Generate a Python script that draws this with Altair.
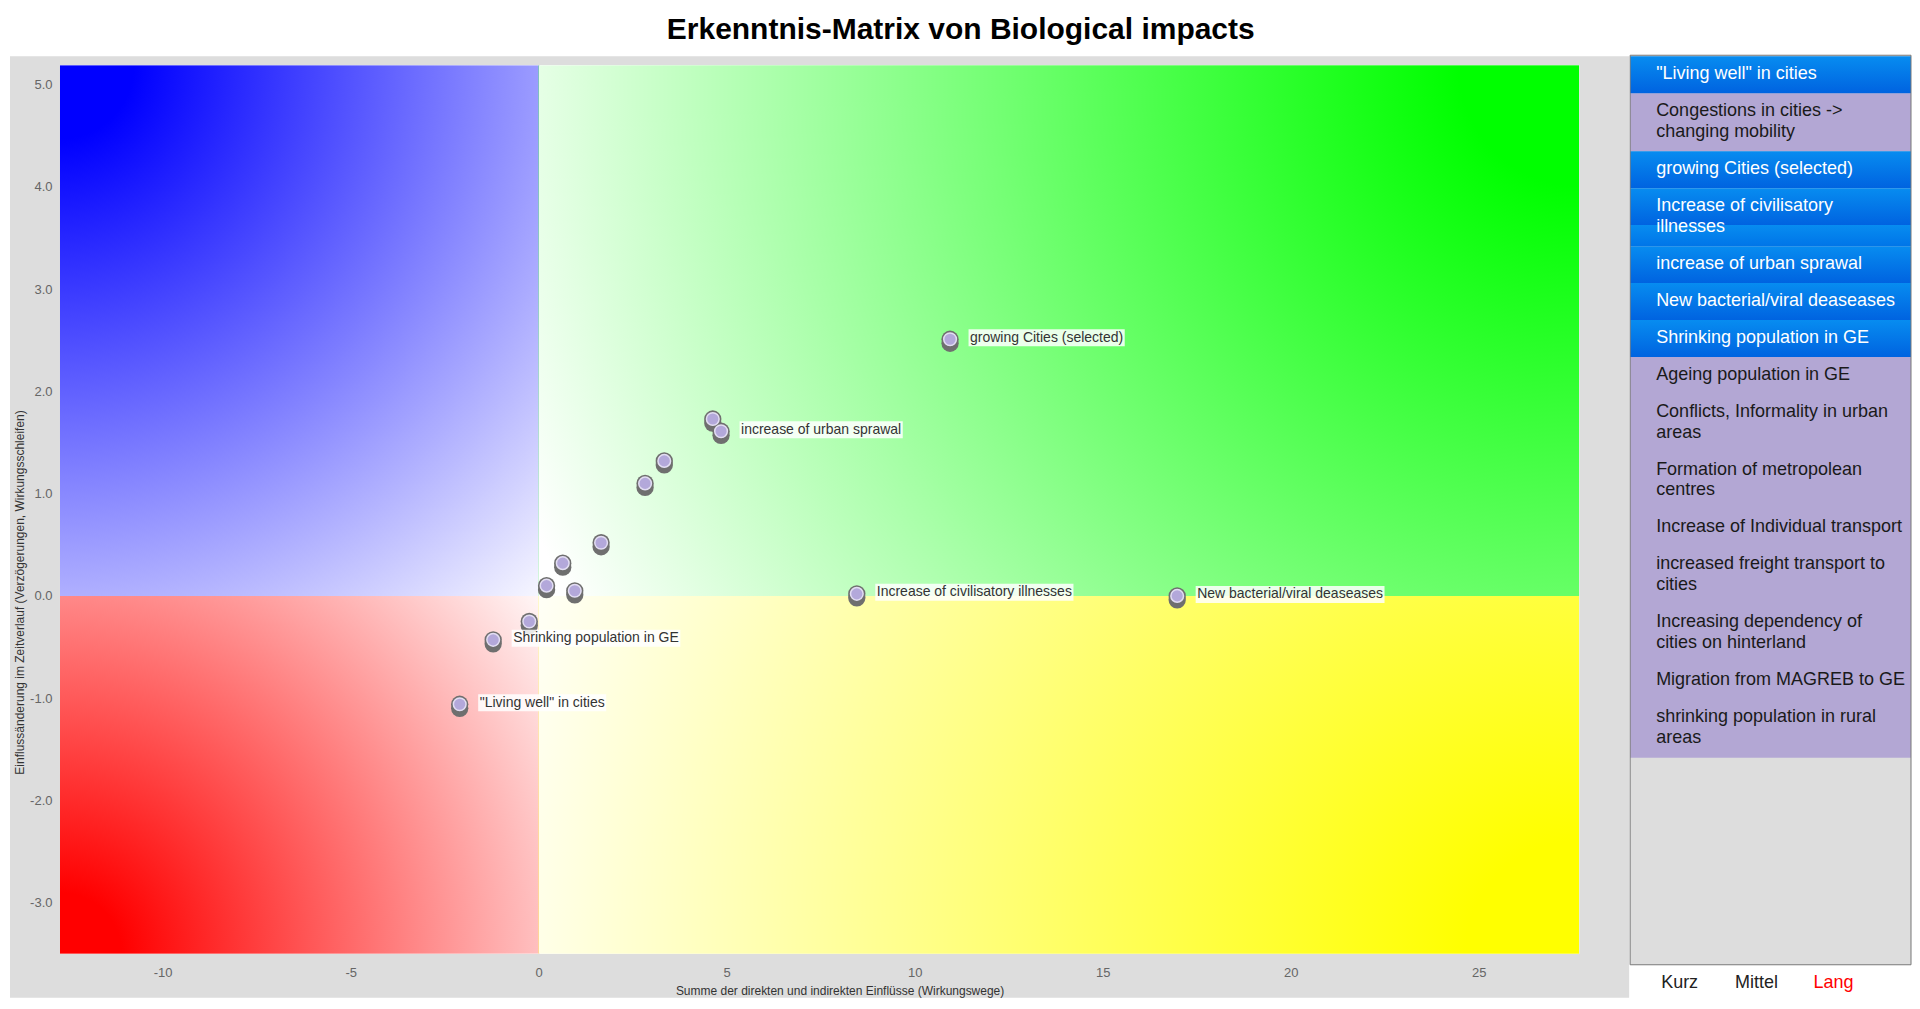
import math
import altair as alt
import pandas as pd

# ---------------- data ----------------
TITLE = "Erkenntnis-Matrix von Biological impacts"
X_TITLE = "Summe der direkten und indirekten Einflüsse (Wirkungswege)"
Y_TITLE = "Einflussänderung im Zeitverlauf (Verzögerungen, Wirkungsschleifen)"

point_x = [10.94, 4.63, 4.85, 3.34, 2.83, 1.66, 0.64, 0.21, 0.96, 8.46, -0.25, -1.21, -2.10, 16.98]
point_y = [2.51, 1.73, 1.61, 1.32, 1.10, 0.52, 0.32, 0.10, 0.05, 0.02, -0.25, -0.43, -1.06, 0.00]
point_label = ["growing Cities (selected)", "", "increase of urban sprawal", "", "", "", "", "", "",
               "Increase of civilisatory illnesses", "", "Shrinking population in GE",
               "\"Living well\" in cities", "New bacterial/viral deaseases"]

x_ticks = [-10, -5, 0, 5, 10, 15, 20, 25]
y_ticks = [-3, -2, -1, 0, 1, 2, 3, 4, 5]
x_domain = [-12.73, 27.67]
y_domain = [-3.5, 5.19]

list_items = [
    "\"Living well\" in cities",
    "Congestions in cities ->\nchanging mobility",
    "growing Cities (selected)",
    "Increase of civilisatory\nillnesses",
    "increase of urban sprawal",
    "New bacterial/viral deaseases",
    "Shrinking population in GE",
    "Ageing population in GE",
    "Conflicts, Informality in urban\nareas",
    "Formation of metropolean\ncentres",
    "Increase of Individual transport",
    "increased freight transport to\ncities",
    "Increasing dependency of\ncities on hinterland",
    "Migration from MAGREB to GE",
    "shrinking population in rural\nareas",
]
list_selected = [True, False, True, True, True, True, True,
                 False, False, False, False, False, False, False, False]

horizon_labels = ["Kurz", "Mittel", "Lang"]
horizon_active = "Lang"

# ---------------- layout / style constants ----------------
FONT = "Liberation Sans"
W, H = 1520, 889            # scatter plot area
PW, PH = 281, 900           # list panel view
PANEL_UNITS = 910           # panel height in its own units
LINE_H, ITEM_PAD = 21, 16
LBL_SIZE = 14
BOX_GAP = 18.5

# Arial / Helvetica advance widths (1/1000 em) for label-box sizing
_chars = " !\"#$%&'()*+,-./0123456789:;<=>?@ABCDEFGHIJKLMNOPQRSTUVWXYZ[\\]^_`abcdefghijklmnopqrstuvwxyz"
_widths = [278, 278, 355, 556, 556, 889, 667, 191, 333, 333, 389, 584, 278, 333, 278, 278] + [556] * 10 + \
          [278, 278, 584, 584, 584, 556, 1015] + \
          [667, 667, 722, 722, 667, 611, 778, 722, 278, 500, 667, 556, 833, 722, 778, 667, 778, 722, 667, 611,
           722, 667, 944, 667, 667, 611] + [278, 278, 278, 469, 556, 333] + \
          [556, 556, 500, 556, 556, 278, 556, 556, 222, 222, 500, 222, 833, 556, 556, 556, 556, 333, 500, 278,
           556, 500, 722, 500, 500, 500]
AFM = dict(zip(_chars, _widths))


def text_width(s, size):
    return sum(AFM.get(c, 556) for c in s) * size / 1000.0


ppu = W / (x_domain[1] - x_domain[0])

pts = pd.DataFrame({"x": point_x, "y": point_y, "label": point_label})
pts["bx0"] = pts["x"] + BOX_GAP / ppu
pts["bx1"] = pts["x"] + (BOX_GAP + 3 + pts["label"].map(lambda s: text_width(s, LBL_SIZE))) / ppu

one = pd.DataFrame({"k": [0]})

# ---------------- quadrant gradients ----------------
wl = W * (0 - x_domain[0]) / (x_domain[1] - x_domain[0])
wr = W - wl
ht = H * (y_domain[1] - 0) / (y_domain[1] - y_domain[0])
hb = H - ht


def radial(w, h, cx, cy, color, white, end=1.0):
    m = max(w, h)
    ux = (cx * w - (w - m) / 2) / m
    uy = (cy * h - (h - m) / 2) / m
    r = 1.03 * math.hypot(w, h) / m
    return alt.RadialGradient(
        gradient="radial",
        stops=[alt.GradientStop(color=color, offset=0),
               alt.GradientStop(color=color, offset=0.1),
               alt.GradientStop(color=white, offset=end)],
        x1=ux, y1=uy, r1=0, x2=ux, y2=uy, r2=r)


# (x0, x1, y0, y1, gradient, x2Offset, yOffset) -- the small overlaps hide seams
quads = [
    (x_domain[0], 0, 0, y_domain[1], radial(wl, ht, 0, 0, "#0000ff", "#ffffff"), 1, 1),
    (0, x_domain[1], 0, y_domain[1], radial(wr, ht, 1, 0, "#00ff00", "#ffffff", 0.95), 0, 1),
    (x_domain[0], 0, y_domain[0], 0, radial(wl, hb, 0, 1, "#ff0000", "#ffffff"), 1, 0),
    (0, x_domain[1], y_domain[0], 0, radial(wr, hb, 1, 1, "#ffff00", "#ffffff"), 0, 0),
]

xscale = alt.Scale(domain=x_domain, nice=False, zero=False)
yscale = alt.Scale(domain=y_domain, nice=False, zero=False)

xaxis = alt.Axis(
    values=x_ticks, title=X_TITLE, grid=False, domain=False, ticks=False, zindex=2,
    labelColor="#666666", labelFontSize=13, labelPadding=13, labelFont=FONT,
    labelExpr="replace(format(datum.value, 'd'), '\u2212', '-')",
    titleFont=FONT, titleFontSize=12, titleFontWeight="normal", titleColor="#333333",
    titleX=780, titleY=32)
yaxis = alt.Axis(
    values=y_ticks, title=Y_TITLE, grid=False, domain=False, ticks=False, zindex=2,
    labelColor="#666666", labelFontSize=13, labelPadding=8, labelFont=FONT,
    labelExpr="replace(format(datum.value, '.1f'), '\u2212', '-')",
    titleFont=FONT, titleFontSize=12, titleFontWeight="normal", titleColor="#333333",
    titleX=-33, titleY=527)

X = alt.X("x:Q", scale=xscale, axis=xaxis, title=X_TITLE)
Y = alt.Y("y:Q", scale=yscale, axis=yaxis, title=Y_TITLE)

bg = alt.Chart(one).mark_rect(color="#dddddd").encode(
    x=alt.value(-50), x2=alt.value(W + 50), y=alt.value(-9), y2=alt.value(H + 44))

quad_layers = [
    alt.Chart(one).mark_rect(color="white", strokeWidth=0).encode(
        x=alt.XDatum(x_domain[0], type="quantitative", scale=xscale, axis=xaxis, title=X_TITLE),
        x2=alt.X2Datum(x_domain[1]),
        y=alt.YDatum(y_domain[0], type="quantitative", scale=yscale, axis=yaxis, title=Y_TITLE),
        y2=alt.Y2Datum(y_domain[1]))
]
for x0, x1, y0, y1, grad, x2off, yoff in quads:
    quad_layers.append(
        alt.Chart(one).mark_rect(fill=grad, strokeWidth=0, x2Offset=x2off, yOffset=yoff).encode(
            x=alt.XDatum(x0, type="quantitative", scale=xscale, axis=xaxis, title=X_TITLE),
            x2=alt.X2Datum(x1),
            y=alt.YDatum(y0, type="quantitative", scale=yscale, axis=yaxis, title=Y_TITLE),
            y2=alt.Y2Datum(y1)))

base = alt.Chart(pts)
shadow = base.mark_circle(color="#6f6f6f", opacity=1, size=300, yOffset=4).encode(x=X, y=Y)
ring = base.mark_circle(color="#6f6f6f", opacity=1, size=300).encode(x=X, y=Y)
dot = base.mark_circle(color="#b3a8da", opacity=1, size=160, stroke="#e2ddf2", strokeWidth=1.5).encode(x=X, y=Y)

labelled = base.transform_filter("datum.label != ''")
lbox = labelled.mark_rect(color="white", opacity=0.85, yOffset=-10, y2Offset=7).encode(
    x=alt.X("bx0:Q", scale=xscale, axis=xaxis, title=X_TITLE), x2="bx1:Q",
    y=Y, y2="y:Q")
ltxt = labelled.mark_text(align="left", baseline="middle", dx=20, dy=-1.5,
                          fontSize=LBL_SIZE, font=FONT, color="#333333").encode(
    x=X, y=Y, text="label:N")

left = alt.layer(bg, *quad_layers, shadow, ring, dot, lbox, ltxt).properties(width=W, height=H)

# ---------------- right list panel ----------------
rows = []
top = 1
for name, sel in zip(list_items, list_selected):
    lines = name.split("\n")
    hgt = ITEM_PAD + LINE_H * len(lines)
    rows.append({"lines": lines, "sel": sel, "n": len(lines),
                 "y0": top, "y1": top + hgt, "ytext": top + ITEM_PAD / 2 + LINE_H / 2})
    top += hgt
items = pd.DataFrame(rows)

yr = alt.Scale(domain=[0, PANEL_UNITS], range=[-10, PH], nice=False, zero=False)

BLUE_L, BLUE_D, BLUE_M = "#078cf0", "#0063e0", "#0075e8"
grad1 = alt.LinearGradient(gradient="linear", x1=0, y1=0, x2=0, y2=1,
                           stops=[alt.GradientStop(color=BLUE_L, offset=0),
                                  alt.GradientStop(color=BLUE_D, offset=1)])
split = (ITEM_PAD + LINE_H) / (ITEM_PAD + 2 * LINE_H)
grad2 = alt.LinearGradient(gradient="linear", x1=0, y1=0, x2=0, y2=1,
                           stops=[alt.GradientStop(color=BLUE_L, offset=0),
                                  alt.GradientStop(color=BLUE_D, offset=split),
                                  alt.GradientStop(color=BLUE_L, offset=split + 0.001),
                                  alt.GradientStop(color=BLUE_M, offset=1)])

panel_fill = alt.Chart(one).mark_rect(color="#dddddd").encode(
    x=alt.value(0), x2=alt.value("width"),
    y=alt.YDatum(0, type="quantitative", scale=yr, axis=None), y2=alt.Y2Datum(PANEL_UNITS))

ib = alt.Chart(items)
Yi = alt.Y("y0:Q", scale=yr, axis=None)
purple = ib.transform_filter("!datum.sel").mark_rect(color="#b3a7d4").encode(
    x=alt.value(0), x2=alt.value("width"), y=Yi, y2="y1:Q")
blue1 = ib.transform_filter("datum.sel && datum.n == 1").mark_rect(fill=grad1).encode(
    x=alt.value(0), x2=alt.value("width"), y=Yi, y2="y1:Q")
blue2 = ib.transform_filter("datum.sel && datum.n == 2").mark_rect(fill=grad2).encode(
    x=alt.value(0), x2=alt.value("width"), y=Yi, y2="y1:Q")
itxt = ib.mark_text(align="left", baseline="middle", fontSize=18, font=FONT, lineHeight=LINE_H, dy=-1).encode(
    x=alt.value(26), y=alt.Y("ytext:Q", scale=yr, axis=None), text="lines",
    color=alt.condition("datum.sel", alt.value("white"), alt.value("#1a1a1a")))
border = alt.Chart(one).mark_rect(fillOpacity=0, stroke="#777777", strokeWidth=1).encode(
    x=alt.value(0), x2=alt.value("width"),
    y=alt.YDatum(0, type="quantitative", scale=yr, axis=None), y2=alt.Y2Datum(PANEL_UNITS))

legend = alt.Chart(pd.DataFrame({"h": horizon_labels})).mark_point(opacity=0).encode(
    x=alt.X("h:N", scale=alt.Scale(type="point", domain=horizon_labels, range=[49, 203], padding=0),
            axis=alt.Axis(title=None, domain=False, ticks=False, grid=False, labelAngle=0,
                          labelFontSize=18, labelFont=FONT, labelPadding=9,
                          labelColor={"condition": {"test": f"datum.value === '{horizon_active}'",
                                                    "value": "#ff0000"},
                                      "value": "#222222"})),
    y=alt.value(0))

right = alt.layer(panel_fill, purple, blue1, blue2, itxt, border, legend).properties(width=PW, height=PH)

chart = alt.hconcat(left, right, spacing=0).properties(
    title=alt.TitleParams(TITLE, fontSize=30, fontWeight="bold", font=FONT, anchor="middle",
                          offset=10, color="#000000"),
    padding={"left": 2, "top": 6, "right": 0, "bottom": 0},
).configure(font=FONT).configure_view(strokeWidth=0)

chart.save("out.html", embed_options={"renderer": "svg", "actions": False})
